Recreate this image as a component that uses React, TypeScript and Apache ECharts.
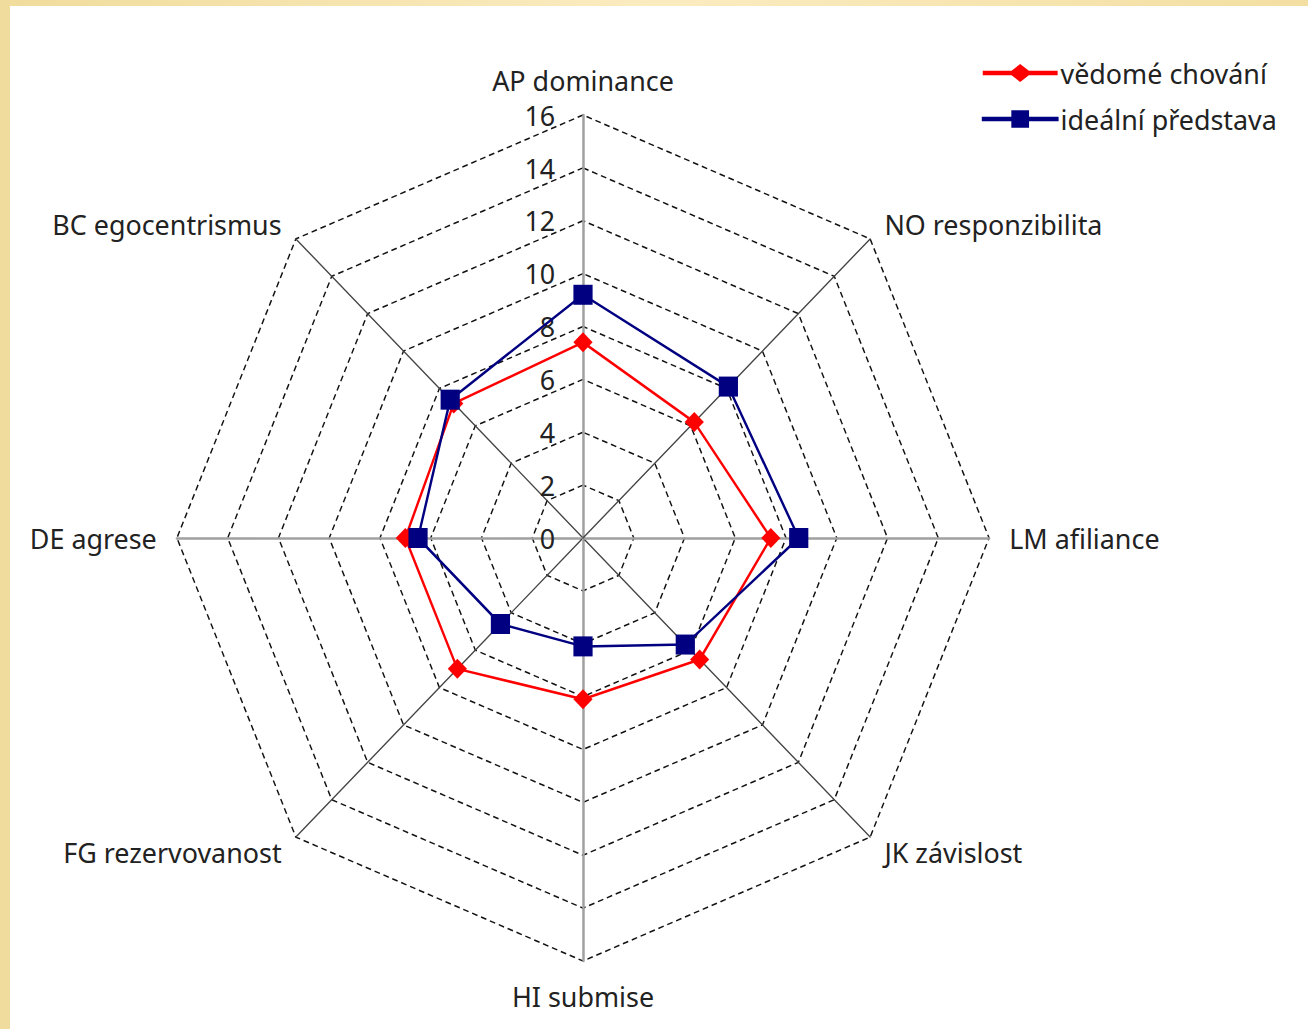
import React, { useEffect, useRef } from "react";
import * as echarts from "echarts";

const indicatorNames = [
  "AP dominance",
  "BC egocentrismus",
  "DE agrese",
  "FG rezervovanost",
  "HI submise",
  "JK závislost",
  "LM afiliance",
  "NO responzibilita",
];
const maxValue = 16;
const seriesNames = ["vědomé chování", "ideální představa"];
const conscious = [7.4, 7.2, 7.0, 7.0, 6.1, 6.5, 7.4, 6.2];
const ideal = [9.2, 7.4, 6.5, 4.6, 4.1, 5.7, 8.5, 8.1];

const FONT = "'Noto Sans', 'DejaVu Sans', sans-serif";
const SX = 0.96;

const diamondIcon =
  "path://M0,6.8L30,6.8L39,0L48,6.8L78,6.8L78,11.2L48,11.2L39,18L30,11.2L0,11.2Z";
const squareIcon =
  "path://M0,6.8L30,6.8L30,0.5L48,0.5L48,6.8L78,6.8L78,11.2L48,11.2L48,17.5L30,17.5L30,11.2L0,11.2Z";

export default function App() {
  const ref = useRef<HTMLDivElement>(null);
  useEffect(() => {
    if (!ref.current) return;
    const chart = echarts.init(ref.current, null, { renderer: "svg" });
    const indicator = indicatorNames.map((name, i) => {
      const straight = i % 2 === 0;
      return {
        name,
        max: maxValue,
        min: 0,
        axisLabel: { show: i === 0 },
        axisLine: {
          lineStyle: straight
            ? { color: "#a0a0a0", width: 2.6 }
            : { color: "#444", width: 1.4 },
        },
      };
    });
    chart.setOption({
      animation: false,
      backgroundColor: "transparent",
      legend: {
        left: 583 + (977 - 583) / SX,
        top: 54,
        orient: "vertical",
        itemWidth: 80,
        itemHeight: 18,
        itemGap: 18,
        textStyle: {
          fontFamily: FONT,
          fontSize: 28,
          color: "#222",
          padding: [0, 0, 0, -3],
        },
        data: [
          { name: seriesNames[0], icon: diamondIcon },
          { name: seriesNames[1], icon: squareIcon },
        ],
      },
      radar: {
        center: [583, 538],
        radius: 423,
        startAngle: 90,
        shape: "polygon",
        splitNumber: 8,
        indicator,
        axisName: {
          color: "#222",
          fontFamily: FONT,
          fontSize: 28,
        },
        nameGap: 21,
        axisLabel: {
          show: false,
          color: "#222",
          fontFamily: FONT,
          fontSize: 28,
          margin: 29,
          showMinLabel: true,
        },
        axisTick: { show: false },
        splitArea: { show: false },
        splitLine: {
          lineStyle: { color: "#111", width: 1.5, type: [6, 4] },
        },
      },
      series: [
        {
          type: "radar",
          data: [
            {
              name: seriesNames[0],
              value: conscious,
              symbol: "diamond",
              symbolSize: 20,
              itemStyle: { color: "#ff0000" },
              lineStyle: { color: "#ff0000", width: 2.5 },
            },
            {
              name: seriesNames[1],
              value: ideal,
              symbol: "rect",
              symbolSize: 20,
              itemStyle: { color: "#000080" },
              lineStyle: { color: "#000080", width: 2.5 },
            },
          ],
        },
      ],
    });
    return () => chart.dispose();
  }, []);
  return (
    <div
      style={{
        position: "fixed",
        left: 0,
        top: 0,
        width: 1308,
        height: 1029,
        overflow: "hidden",
        background: "linear-gradient(90deg, #f0dc9c, #fbecc0 50%, #f3dfa2)",
      }}
    >
      <div
        style={{
          position: "absolute",
          left: 10,
          top: 6,
          width: 1298,
          height: 1023,
          background: "#ffffff",
        }}
      />
      <div
        ref={ref}
        style={{
          position: "absolute",
          left: 0,
          top: 0,
          width: 1308,
          height: 1029,
          transform: `scaleX(${SX})`,
          transformOrigin: "583px 538px",
        }}
      />
    </div>
  );
}
